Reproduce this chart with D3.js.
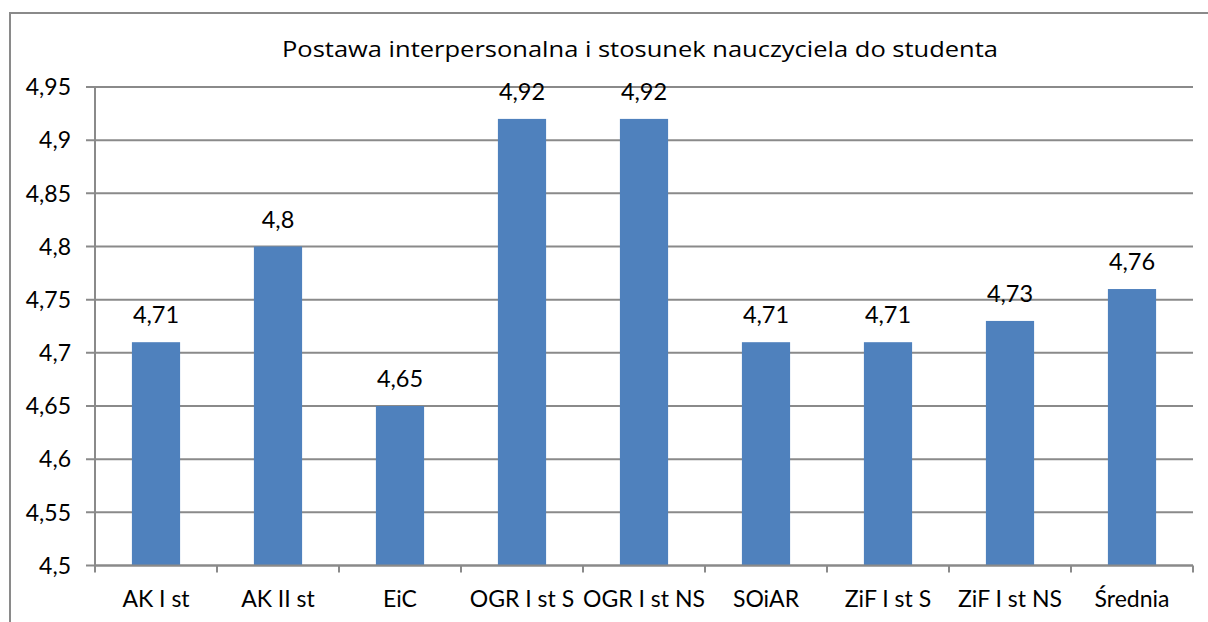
<!DOCTYPE html>
<html><head><meta charset="utf-8">
<script src="https://cdn.jsdelivr.net/npm/d3@7"></script>
<style>body{margin:0;background:#fff}svg{display:block}text{font-family:Lato,"Open Sans",sans-serif;fill:#000}</style>
</head><body><svg id="c" width="1208" height="622"></svg>
<script>
const title = "Postawa interpersonalna i stosunek nauczyciela do studenta";
const categories = ["AK I st","AK II st","EiC","OGR I st S","OGR I st NS","SOiAR","ZiF I st S","ZiF I st NS","Średnia"];
const values = [4.71,4.8,4.65,4.92,4.92,4.71,4.71,4.73,4.76];
const valueLabels = ["4,71","4,8","4,65","4,92","4,92","4,71","4,71","4,73","4,76"];
const yTicks = [4.5,4.55,4.6,4.65,4.7,4.75,4.8,4.85,4.9,4.95];
const yTickLabels = ["4,5","4,55","4,6","4,65","4,7","4,75","4,8","4,85","4,9","4,95"];

const svg = d3.select("#c");
const L=95,R=1193,T=87,B=565.5;
const x = d3.scaleBand().domain(categories).range([L,R]).paddingInner(0.605).paddingOuter(0.3025);
const xb = d3.scaleBand().domain(categories).range([L,R]);
const y = d3.scaleLinear().domain([4.5,4.95]).range([B,T]);
const grid="#8a8a8a";

// outer frame
svg.append("path").attr("d",`M10,630 V13 H1215`).attr("fill","none").attr("stroke",grid).attr("stroke-width",2);

const t = svg.append("text").attr("x",640).attr("y",57).attr("text-anchor","middle").attr("font-size",22.5)
  .style("font-family","'Open Sans',sans-serif").text(title);
const tl = t.node().getComputedTextLength();
if (Math.abs(tl-716) > 4) t.attr("textLength",716).attr("lengthAdjust","spacingAndGlyphs");

// gridlines
svg.append("g").selectAll("line").data(yTicks).join("line")
  .attr("x1",L-9).attr("x2",R).attr("y1",d=>y(d)).attr("y2",d=>y(d))
  .attr("stroke",grid).attr("stroke-width",2);
svg.append("g").selectAll("text").data(yTicks).join("text")
  .attr("x",71).attr("y",d=>y(d)).attr("dy","0.36em").attr("text-anchor","end").attr("font-size",23)
  .text((d,i)=>yTickLabels[i]);

// bars
svg.append("g").selectAll("rect").data(values).join("rect")
  .attr("x",(d,i)=>x(categories[i])).attr("width",x.bandwidth())
  .attr("y",d=>y(d)).attr("height",d=>B-y(d)).attr("fill","#4F81BD");

svg.append("g").selectAll("text").data(values).join("text")
  .attr("x",(d,i)=>x(categories[i])+x.bandwidth()/2).attr("y",d=>y(d)-19)
  .attr("text-anchor","middle").attr("font-size",23.5).text((d,i)=>valueLabels[i]);

// axes
svg.append("line").attr("x1",L).attr("x2",L).attr("y1",T).attr("y2",B+6).attr("stroke",grid).attr("stroke-width",2);
svg.append("line").attr("x1",L).attr("x2",R).attr("y1",B).attr("y2",B).attr("stroke",grid).attr("stroke-width",2);
const xt = categories.map(c=>xb(c)).concat([R]);
svg.append("g").selectAll("line").data(xt).join("line")
  .attr("x1",d=>d).attr("x2",d=>d).attr("y1",B).attr("y2",B+7).attr("stroke",grid).attr("stroke-width",2);
svg.append("g").selectAll("text").data(categories).join("text")
  .attr("x",d=>xb(d)+xb.bandwidth()/2).attr("y",607).attr("text-anchor","middle").attr("font-size",23)
  .text(d=>d);
</script></body></html>
